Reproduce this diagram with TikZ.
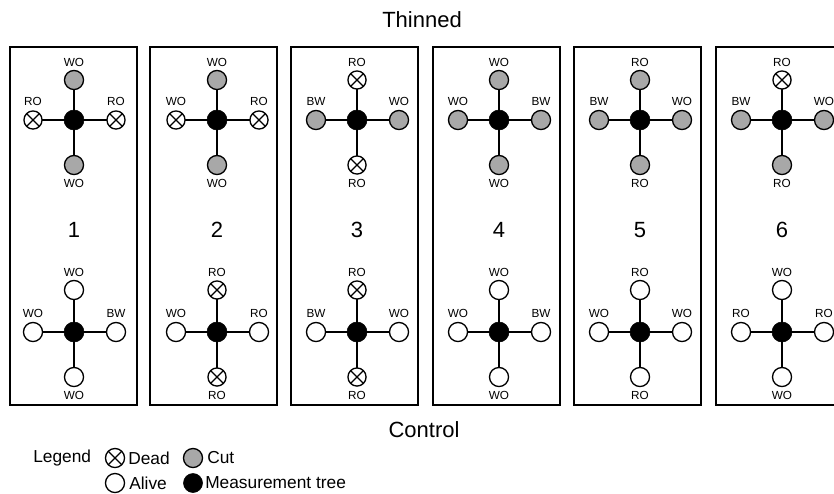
\documentclass[tikz,border=0pt]{standalone}
\usepackage{fontspec}
\setmainfont{Liberation Sans}
\usetikzlibrary{calc}

\definecolor{cutgray}{RGB}{168,168,168}

\tikzset{
  tree/.style={circle, draw=black, line width=1pt, minimum size=14.3pt, inner sep=0pt, outer sep=0pt},
  cut/.style={tree, fill=cutgray},
  alive/.style={tree, fill=white},
  dead/.style={tree, fill=white, minimum size=13.6pt,
    path picture={\draw[line width=0.9pt]
      (path picture bounding box.north west) -- (path picture bounding box.south east)
      (path picture bounding box.north east) -- (path picture bounding box.south west);}},
  meas/.style={circle, fill=black, draw=black, minimum size=15pt, inner sep=0pt, outer sep=0pt},
  armline/.style={line width=1.1pt},
  panelbox/.style={line width=1.5pt},
  lbl/.style={font=\fontsize{8.8}{10}\selectfont, inner sep=0pt},
  title/.style={font=\fontsize{16.5}{18}\selectfont, inner sep=0pt},
  legendtext/.style={font=\fontsize{13}{15}\selectfont, inner sep=0pt, anchor=west},
}

% one neighbour tree with its species label: name, x, y, style, label, label shift
\newcommand\nbtree[6]{%
  \node[#4] (#1) at (#2,{#3}) {};
  \node[lbl] (#1-l) at (#2,{#3+(#6)}) {#5};
}

% measurement tree with four neighbours:
% name, x, y, rise of upper neighbour, upper, left, right, lower ({style}{label} each)
\newcommand\treecross[8]{%
  \node[meas] (#1) at (#2,#3) {};
  \nbtree{#1-n}{#2}{#3-#4}#5{-18}
  \nbtree{#1-w}{#2-41}{#3}#6{-18.5}
  \nbtree{#1-e}{#2+42}{#3}#7{-18.5}
  \nbtree{#1-s}{#2}{#3+45}#8{18.5}
  \draw[armline] (#1) -- (#1-n) (#1) -- (#1-w) (#1) -- (#1-e) (#1) -- (#1-s);
}

\begin{document}
\begin{tikzpicture}[x=0.75pt, y=-0.75pt]
\useasboundingbox (0,0) rectangle (834,493);
\clip (0,0) rectangle (834,493);

% headings
\node[title] (thinned) at (422,20) {Thinned};
\node[title] (control) at (424,430) {Control};

% plot frames
\foreach \L in {10,150,291,433,574,716}
  \draw[panelbox] (\L,47) rectangle (\L+127,405);

% plot numbers
\foreach \x/\n in {74/1,217/2,357/3,499/4,640/5,782/6}
  \node[title] (num\n) at (\x,230) {\n};

% thinned plots
\treecross{t1}{74}{120}{40}{{cut}{WO}}{{dead}{RO}}{{dead}{RO}}{{cut}{WO}}
\treecross{t2}{217}{120}{40}{{cut}{WO}}{{dead}{WO}}{{dead}{RO}}{{cut}{WO}}
\treecross{t3}{357}{120}{40}{{dead}{RO}}{{cut}{BW}}{{cut}{WO}}{{dead}{RO}}
\treecross{t4}{499}{120}{40}{{cut}{WO}}{{cut}{WO}}{{cut}{BW}}{{cut}{WO}}
\treecross{t5}{640}{120}{40}{{cut}{RO}}{{cut}{BW}}{{cut}{WO}}{{cut}{RO}}
\treecross{t6}{782}{120}{40}{{dead}{RO}}{{cut}{BW}}{{cut}{WO}}{{cut}{RO}}

% control plots
\treecross{c1}{74}{332}{42}{{alive}{WO}}{{alive}{WO}}{{alive}{BW}}{{alive}{WO}}
\treecross{c2}{217}{332}{42}{{dead}{RO}}{{alive}{WO}}{{alive}{RO}}{{dead}{RO}}
\treecross{c3}{357}{332}{42}{{dead}{RO}}{{alive}{BW}}{{alive}{WO}}{{dead}{RO}}
\treecross{c4}{499}{332}{42}{{alive}{WO}}{{alive}{WO}}{{alive}{BW}}{{alive}{WO}}
\treecross{c5}{640}{332}{42}{{alive}{RO}}{{alive}{WO}}{{alive}{WO}}{{alive}{RO}}
\treecross{c6}{782}{332}{42}{{alive}{WO}}{{alive}{RO}}{{alive}{RO}}{{alive}{WO}}

% legend
\node[legendtext] (leg) at (33,458) {Legend};
\node[dead, minimum size=14.3pt] (legdead) at (115,458) {};
\node[legendtext] (legdeadt) at (128,458) {Dead};
\node[cut] (legcut) at (193,458) {};
\node[legendtext] (legcutt) at (207,458) {Cut};
\node[alive] (legalive) at (115,483) {};
\node[legendtext] (legalivet) at (129,483) {Alive};
\node[meas, minimum size=14.3pt] (legmeas) at (193,483) {};
\node[legendtext] (legmeast) at (205,483) {Measurement tree};
\end{tikzpicture}
\end{document}
